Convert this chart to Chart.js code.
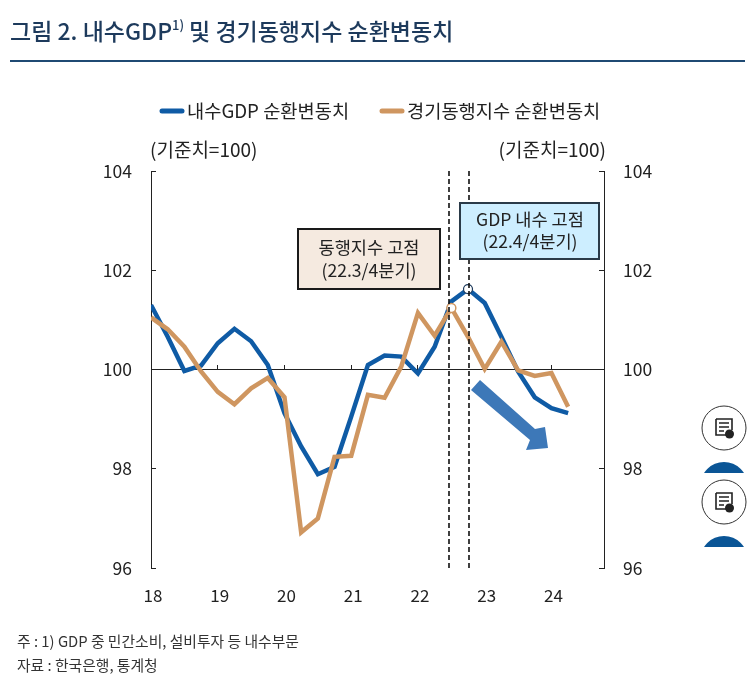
<!DOCTYPE html>
<html><head><meta charset="utf-8">
<style>html,body{margin:0;padding:0;background:#fff}#w{width:750px;height:690px;position:relative}</style>
<script src="https://cdn.jsdelivr.net/npm/chart.js@4"></script>
</head><body><div id="w"><canvas id="c" width="750" height="690"></canvas></div>
<script>
const yearLabels = ['18','19','20','21','22','23','24'];
const quarters = ['18Q1','18Q2','18Q3','18Q4','19Q1','19Q2','19Q3','19Q4','20Q1','20Q2','20Q3','20Q4','21Q1','21Q2','21Q3','21Q4','22Q1','22Q2','22Q3','22Q4','23Q1','23Q2','23Q3','23Q4','24Q1','24Q2'];
const domesticGdp = [101.30,100.66,99.97,100.08,100.53,100.82,100.57,100.09,99.12,98.45,97.89,98.04,99.05,100.09,100.28,100.26,99.92,100.46,101.37,101.62,101.34,100.66,99.96,99.44,99.22,99.12];
const coincident = [101.05,100.81,100.46,99.96,99.55,99.30,99.62,99.83,99.44,96.72,97.00,98.24,98.26,99.49,99.43,100.06,101.14,100.68,101.24,100.66,100.01,100.56,99.98,99.87,99.93,99.25];
const FONT = '"Noto Sans CJK KR","Noto Sans",sans-serif';
const pts = a => a.map((v,i)=>({x:i,y:v}));
function txt(c,s,x,y,size,color,align,weight){c.font=(weight||'400')+' '+size+'px '+FONT;c.fillStyle=color;c.textAlign=align||'left';c.textBaseline='middle';c.fillText(s,x,y);}
function box(c,x,y,w,h,fill,stroke){c.fillStyle=fill;c.fillRect(x,y,w,h);c.strokeStyle=stroke;c.lineWidth=2;c.strokeRect(x,y,w,h);}
function widget(c,cy){
  const cx=724;
  c.strokeStyle='#333';c.lineWidth=1;c.fillStyle='#fff';c.beginPath();c.arc(cx,cy,22,0,Math.PI*2);c.fill();c.stroke();
  c.strokeStyle='#222';c.lineWidth=1.6;c.beginPath();c.moveTo(716,cy-9);c.lineTo(732,cy-9);c.lineTo(732,cy+2);c.moveTo(716,cy-9);c.lineTo(716,cy+7);c.lineTo(726,cy+7);c.stroke();
  c.lineWidth=1.3;c.beginPath();c.moveTo(719,cy-5);c.lineTo(729,cy-5);c.moveTo(719,cy-1);c.lineTo(729,cy-1);c.moveTo(719,cy+3);c.lineTo(724,cy+3);c.stroke();
  c.fillStyle='#222';c.beginPath();c.arc(729.5,cy+6,4.5,0,Math.PI*2);c.fill();
  const t=cy+34,b=cy+45,r=23.7;
  c.save();c.beginPath();c.rect(690,t,70,b-t);c.clip();c.fillStyle='#0a5596';c.beginPath();c.arc(cx,t+r,r,0,Math.PI*2);c.fill();c.restore();
}
const decor={id:'decor',
  beforeDraw(ch){const c=ch.ctx;c.save();
    c.fillStyle='#fff';c.fillRect(0,0,750,690);
    txt(c,'그림 2. 내수GDP',10,31,23,'#1d3a5c','left','500');
    let w=c.measureText('그림 2. 내수GDP').width;
    txt(c,'1)',10+w,25,13,'#1d3a5c','left','500');
    txt(c,'및 경기동행지수 순환변동치',10+w+17,31,23,'#1d3a5c','left','500');
    c.fillStyle='#1f4a73';c.fillRect(10,60,735,2);
    const ds=ch.data.datasets;
    c.lineCap='round';c.lineWidth=5;
    c.strokeStyle=ds[0].borderColor;c.beginPath();c.moveTo(162,111);c.lineTo(182,111);c.stroke();
    c.strokeStyle=ds[1].borderColor;c.beginPath();c.moveTo(382,111);c.lineTo(402,111);c.stroke();
    c.lineCap='butt';
    txt(c,ds[0].label,187,111,18.7,'#222');
    txt(c,ds[1].label,407,111,18.7,'#222');
    txt(c,'(기준치=100)',150,150,19,'#222');
    txt(c,'(기준치=100)',606,150,19,'#222','right');
    txt(c,'주 : 1) GDP 중 민간소비, 설비투자 등 내수부문',17,641,14.8,'#333');
    txt(c,'자료 : 한국은행, 통계청',17,665,14.8,'#333');
    widget(c,428);widget(c,502);
    c.restore();
  },
  afterDatasetsDraw(ch){const c=ch.ctx,a=ch.chartArea,x=ch.scales.x;c.save();
    c.strokeStyle='#111';c.lineWidth=1.6;c.setLineDash([5,3]);
    [17.88,19.06].forEach(v=>{const p=Math.round(x.getPixelForValue(v));c.beginPath();c.moveTo(p,a.top);c.lineTo(p,a.bottom);c.stroke();});
    c.setLineDash([]);
    box(c,298,229,142,60,'#f5eae0','#1a1a1a');
    txt(c,'동행지수 고점',369,247,17.6,'#222','center');
    txt(c,'(22.3/4분기)',369,270,17.6,'#222','center');
    box(c,460,203,139,56,'#cdeeff','#2a3a48');
    txt(c,'GDP 내수 고점',530,219,17.6,'#222','center');
    txt(c,'(22.4/4분기)',530,241,17.6,'#222','center');
    c.fillStyle='#3d78b8';c.beginPath();
    [[471,390],[480,380],[535,429],[545,427],[548,448],[526,450],[530,440]].forEach((p,i)=>i?c.lineTo(p[0],p[1]):c.moveTo(p[0],p[1]));
    c.closePath();c.fill();
    c.restore();
  }};
const peakRadius=k=>ctx=>ctx.dataIndex===k?4.5:0;
new Chart(document.getElementById('c'),{
  type:'line',
  data:{datasets:[
    {label:'내수GDP 순환변동치',data:pts(domesticGdp),borderColor:'#0f5ba5',borderWidth:4.5,order:2,tension:0,
     pointRadius:peakRadius(19),pointBackgroundColor:'#fff',pointBorderColor:'#1d3a5c',pointBorderWidth:1.2,borderJoinStyle:'miter',yAxisID:'y'},
    {label:'경기동행지수 순환변동치',data:pts(coincident),borderColor:'#cf9660',borderWidth:4.5,order:1,tension:0,
     pointRadius:peakRadius(18),pointBackgroundColor:'#fff',pointBorderColor:'#cf9660',pointBorderWidth:1.5,borderJoinStyle:'miter',yAxisID:'y'}
  ]},
  options:{
    responsive:false,animation:false,
    layout:{padding:{top:171,left:101,right:93,bottom:82}},
    plugins:{legend:{display:false},tooltip:{enabled:false},title:{display:false}},
    scales:{
      x:{type:'linear',position:'bottom',min:0,max:27.15,
        border:{display:false},
        grid:{display:false},
        afterBuildTicks(s){s.ticks=yearLabels.map((_,i)=>({value:i*4}));},
        ticks:{autoSkip:false,maxRotation:0,padding:9,labelOffset:2,color:'#222',font:{family:FONT,size:17}},
        afterFit(s){s.height=40;}},
      x2:{type:'linear',axis:'x',position:{y:100},min:0,max:27.15,
        border:{display:true,color:'#222',width:1},
        grid:{drawOnChartArea:false,drawTicks:true,tickLength:-5,color:'#222',lineWidth:1},
        afterBuildTicks(s){s.ticks=yearLabels.map((_,i)=>({value:i*4}));},
        ticks:{display:false},
        afterFit(s){s.height=0;}},
      y:{type:'linear',position:'left',min:96,max:104,
        border:{display:true,color:'#222',width:1},
        grid:{drawOnChartArea:false,drawTicks:true,tickLength:-5,color:'#222'},
        ticks:{stepSize:2,padding:24,color:'#222',font:{family:FONT,size:17.5}},
        afterFit(s){s.width=50;}},
      y2:{type:'linear',position:'right',min:96,max:104,
        border:{display:true,color:'#222',width:1},
        grid:{drawOnChartArea:false,drawTicks:true,tickLength:-5,color:'#222'},
        ticks:{stepSize:2,padding:24,color:'#222',font:{family:FONT,size:17.5}},
        afterFit(s){s.width=53;}}
    }
  },
  plugins:[decor]
});
// year tick labels come from the yearLabels list
Chart.getChart('c').options.scales.x.ticks.callback=v=>yearLabels[v/4];
Chart.getChart('c').update();
</script></body></html>
